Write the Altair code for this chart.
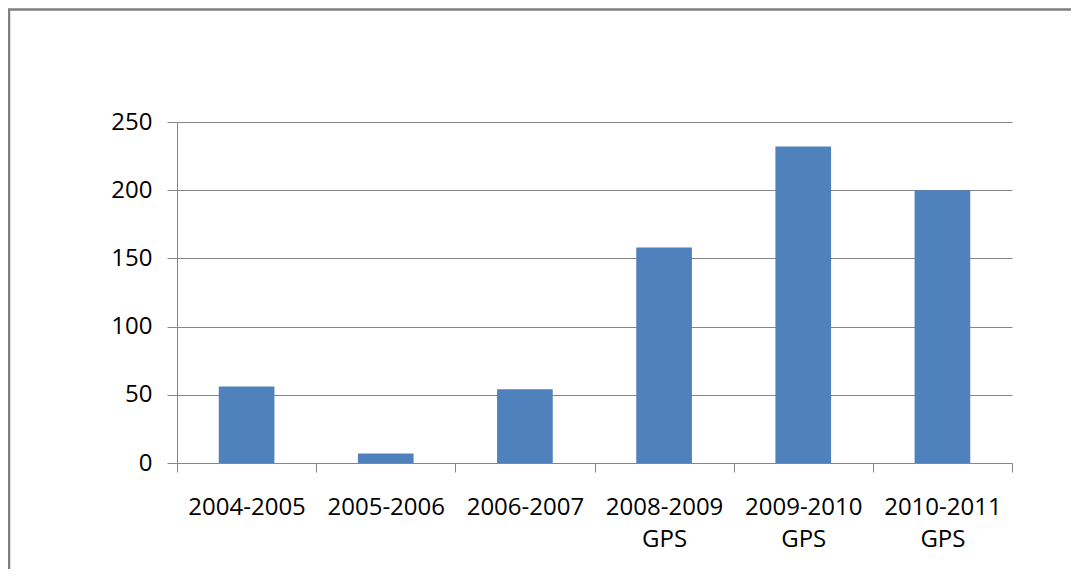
import altair as alt
import pandas as pd

categories = ["2004-2005", "2005-2006", "2006-2007", "2008-2009 GPS", "2009-2010 GPS", "2010-2011 GPS"]
values = [56, 7, 54, 158, 232, 200]
y_ticks = [0, 50, 100, 150, 200, 250]

df = pd.DataFrame({"season": categories, "count": values})

GRAY = "#868686"
FONT = "Open Sans"

frame = alt.Chart(pd.DataFrame({"k": [0]})).mark_rect(
    fill="transparent", stroke="#808080", strokeWidth=2.5
).encode(
    x=alt.value(-168), x2=alt.value(1100),
    y=alt.value(-112.5), y2=alt.value(700),
)

bars = alt.Chart(df).mark_bar(color="#4F81BD", width=alt.RelativeBandSize(0.4)).encode(
    x=alt.X(
        "season:N", sort=categories, title=None,
        scale=alt.Scale(paddingInner=0, paddingOuter=0),
        axis=alt.Axis(
            labelAngle=0, labelExpr="split(datum.label, ' ')",
            tickBand="extent", tickSize=9, tickColor=GRAY, domainColor=GRAY,
            labelPadding=23, labelLineHeight=32, labelFont=FONT, labelFontSize=24,
            labelColor="#000000", grid=False,
        ),
    ),
    y=alt.Y(
        "count:Q", title=None,
        scale=alt.Scale(domain=[0, 250]),
        axis=alt.Axis(
            values=y_ticks, tickSize=10, tickColor=GRAY, domainColor=GRAY,
            gridColor=GRAY, gridOpacity=1, labelPadding=15, labelFont=FONT,
            labelFontSize=24, labelColor="#000000",
        ),
    ),
)

chart = alt.layer(frame, bars).properties(
    width=835, height=341,
    autosize=alt.AutoSizeParams(type="none"),
    padding={"left": 169, "top": 114, "right": 59, "bottom": 106},
).configure_view(strokeWidth=0).configure_axis(domainWidth=1, tickWidth=1, gridWidth=1)

chart.save("out.html", embed_options={"renderer": "svg", "actions": False})
